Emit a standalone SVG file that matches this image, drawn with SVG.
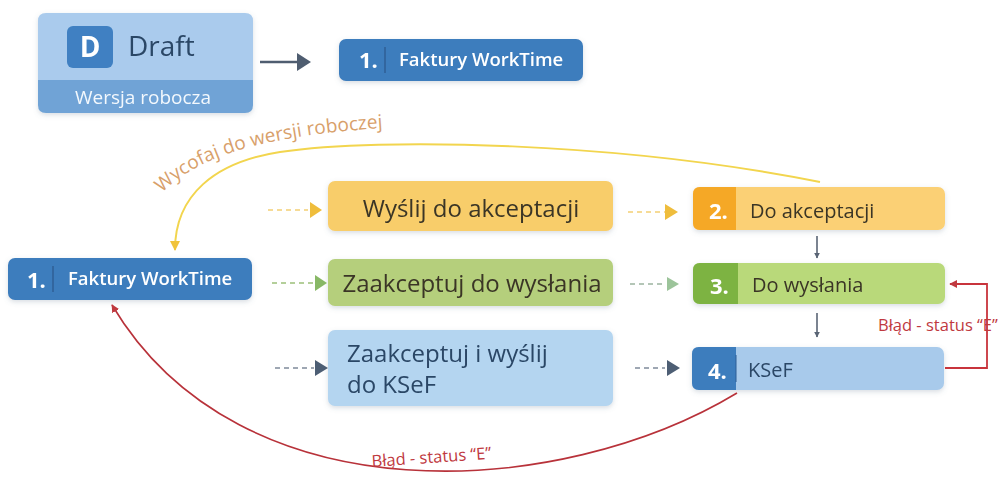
<svg xmlns="http://www.w3.org/2000/svg" width="1000" height="491" viewBox="0 0 1000 491">
<defs>
<style>
text{font-family:"Open Sans","Noto Sans","Liberation Sans",sans-serif}
.wt{fill:#ffffff}
.dk{fill:#3a3526}
.nv{fill:#2b4766}
.lbl{font-size:24px}
.st{font-size:20px}
.num{font-size:22px;font-weight:700;fill:#ffffff}
.fk{font-size:18.5px;font-weight:600;fill:#ffffff}
.red{fill:#c0393f;font-size:16.5px}
</style>
<filter id="sh" x="-10%" y="-20%" width="120%" height="150%">
<feDropShadow dx="0" dy="2" stdDeviation="2.5" flood-color="#6a7a90" flood-opacity="0.25"/>
</filter>
<marker id="aGray" viewBox="0 0 10 10" refX="9" refY="5" markerWidth="6" markerHeight="6" orient="auto" markerUnits="userSpaceOnUse">
<path d="M0,0 L10,5 L0,10 Z" fill="#5a6575"/>
</marker>
<marker id="aYel" viewBox="0 0 10 10" refX="9" refY="5" markerWidth="10" markerHeight="10" orient="auto" markerUnits="userSpaceOnUse">
<path d="M0,0 L10,5 L0,10 Z" fill="#f0c33c"/>
</marker>
<marker id="aRed" viewBox="0 0 10 10" refX="9" refY="5" markerWidth="8" markerHeight="8" orient="auto" markerUnits="userSpaceOnUse">
<path d="M0,0 L10,5 L0,10 Z" fill="#c0393f"/>
</marker>
</defs>
<rect width="1000" height="491" fill="#ffffff"/>

<g id="draft" filter="url(#sh)">
<path d="M46,13 H245 Q253,13 253,21 V80 H38 V21 Q38,13 46,13 Z" fill="#aacbed"/>
<path d="M38,80 H253 V105 Q253,113 245,113 H46 Q38,113 38,105 Z" fill="#6fa3d6"/>
<rect x="67" y="26" width="46" height="42" rx="6" fill="#3f80c2"/>
<text x="90" y="57" text-anchor="middle" class="wt" font-size="28" font-weight="700">D</text>
<text x="128" y="56" class="nv" font-size="28" font-weight="500">Draft</text>
<text x="143" y="104" text-anchor="middle" font-size="19" fill="#f3f8fd">Wersja robocza</text>
</g>

<g id="faktury-top" filter="url(#sh)">
<rect x="339" y="39" width="244" height="42" rx="7" fill="#3d7dbd"/>
<text x="359" y="68" class="num">1.</text>
<line x1="385" y1="47" x2="385" y2="73" stroke="#2c5f96" stroke-width="1.5"/>
<text x="399" y="66" class="fk">Faktury WorkTime</text>
</g>

<g id="faktury-left" filter="url(#sh)">
<rect x="8" y="258" width="244" height="42" rx="7" fill="#3d7dbd"/>
<text x="27" y="288" class="num">1.</text>
<line x1="53" y1="266" x2="53" y2="292" stroke="#2c5f96" stroke-width="1.5"/>
<text x="68" y="285" class="fk">Faktury WorkTime</text>
</g>

<g id="wyslij-do-akceptacji" filter="url(#sh)">
<rect x="328" y="181" width="285" height="50" rx="7" fill="#f8cd6a"/>
<text x="471" y="217" text-anchor="middle" class="lbl dk">Wyślij do akceptacji</text>
</g>

<g id="zaakceptuj-do-wyslania" filter="url(#sh)">
<rect x="328" y="259" width="285" height="47" rx="7" fill="#b5cf7b"/>
<text x="472" y="292" text-anchor="middle" class="lbl dk">Zaakceptuj do wysłania</text>
</g>

<g id="zaakceptuj-i-wyslij" filter="url(#sh)">
<rect x="328" y="330" width="285" height="76" rx="7" fill="#b4d5f0"/>
<text x="347" y="362" class="lbl nv">Zaakceptuj i wyślij</text>
<text x="347" y="393" class="lbl nv">do KSeF</text>
</g>

<g id="do-akceptacji" filter="url(#sh)">
<rect x="693" y="187" width="252" height="43" rx="7" fill="#fbd074"/>
<path d="M700,187 H736 V230 H700 Q693,230 693,223 V194 Q693,187 700,187 Z" fill="#f5a828"/>
<text x="709" y="219" class="num">2.</text>
<text x="750" y="218" class="st dk">Do akceptacji</text>
</g>

<g id="do-wyslania" filter="url(#sh)">
<rect x="693" y="263" width="252" height="41" rx="7" fill="#b9d97a"/>
<path d="M700,263 H738 V304 H700 Q693,304 693,297 V270 Q693,263 700,263 Z" fill="#7db342"/>
<text x="710" y="294" class="num">3.</text>
<text x="752" y="292" class="st dk">Do wysłania</text>
</g>

<g id="ksef" filter="url(#sh)">
<rect x="692" y="347" width="252" height="43" rx="7" fill="#a8caeb"/>
<path d="M699,347 H736 V390 H699 Q692,390 692,383 V354 Q692,347 699,347 Z" fill="#3d7dbd"/>
<line x1="736" y1="355" x2="736" y2="382" stroke="#2c5f96" stroke-width="1"/>
<text x="708" y="379" class="num">4.</text>
<text x="748" y="377" class="st nv">KSeF</text>
</g>

<g id="connectors" fill="none">
<line x1="260" y1="62" x2="298" y2="62" stroke="#4f5d70" stroke-width="2.5"/>
<path d="M297,53 L311,62 L297,71 Z" fill="#4f5d70"/>

<line x1="268" y1="210" x2="308" y2="210" stroke="#f3cf74" stroke-width="1.6" stroke-dasharray="5,4"/>
<path d="M310,202 L322,210 L310,218 Z" fill="#efbd3c"/>
<line x1="628" y1="212" x2="665" y2="212" stroke="#f3cf74" stroke-width="1.6" stroke-dasharray="5,4"/>
<path d="M665,204 L678,212 L665,220 Z" fill="#efbd3c"/>

<line x1="272" y1="283" x2="313" y2="283" stroke="#9cc07a" stroke-width="1.6" stroke-dasharray="5,4"/>
<path d="M315,275 L327,283 L315,291 Z" fill="#88b866"/>
<line x1="630" y1="284" x2="665" y2="284" stroke="#9cb4a0" stroke-width="1.6" stroke-dasharray="5,4"/>
<path d="M667,277 L679,284 L667,291 Z" fill="#9cc49a"/>

<line x1="275" y1="368" x2="314" y2="368" stroke="#7f8a9a" stroke-width="1.6" stroke-dasharray="5,4"/>
<path d="M315,360 L328,368 L315,376 Z" fill="#4d5e74"/>
<line x1="635" y1="368" x2="665" y2="368" stroke="#7f8a9a" stroke-width="1.6" stroke-dasharray="5,4"/>
<path d="M667,360 L680,368 L667,376 Z" fill="#4d5e74"/>

<line x1="817" y1="236" x2="817" y2="258" stroke="#5a6575" stroke-width="1.6" marker-end="url(#aGray)"/>
<line x1="817" y1="313" x2="817" y2="337" stroke="#5a6575" stroke-width="1.6" marker-end="url(#aGray)"/>

<path d="M820,182 C620,142 380,137 280,152 C215,162 175,195 175,250" stroke="#f2d54e" stroke-width="2" marker-end="url(#aYel)"/>

<path d="M945,368 H987 V284 H950" stroke="#c8343c" stroke-width="1.8" marker-end="url(#aRed)"/>

<path d="M737,393 C560,500 240,520 112,305" stroke="#b8323a" stroke-width="1.6" marker-end="url(#aRed)"/>

<path id="tp" d="M162,193 C200,154 270,134 400,127"/>
<text font-size="19" fill="#d8a06a"><textPath href="#tp">Wycofaj do wersji roboczej</textPath></text>
<text x="878" y="331" class="red">Błąd - status “E”</text>
<text x="372" y="467" class="red" transform="rotate(-4 372 467)">Błąd - status “E”</text>
</g>
</svg>
